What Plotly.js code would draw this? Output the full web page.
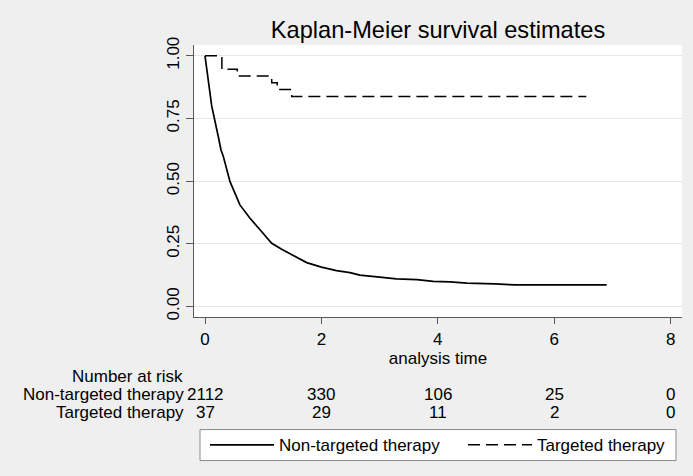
<!DOCTYPE html>
<html>
<head>
<meta charset="utf-8">
<script src="https://cdn.plot.ly/plotly-3.0.1.min.js"></script>
<style>html,body{margin:0;padding:0;background:#efefef;}#chart{width:693px;height:476px;}</style>
</head>
<body>
<div id="chart"></div>
<script>
// Non-targeted therapy KM estimate
var ntTime = [0, 0.115, 0.229, 0.275, 0.315, 0.43, 0.60, 0.773, 0.945, 1.146, 1.317, 1.517, 1.747, 2.0, 2.26, 2.49, 2.66, 3.0, 3.29, 3.64, 3.92, 4.21, 4.5, 4.98, 5.33, 6.9];
var ntSurv = [1, 0.80, 0.677, 0.624, 0.598, 0.498, 0.405, 0.352, 0.306, 0.252, 0.228, 0.202, 0.175, 0.157, 0.143, 0.135, 0.125, 0.117, 0.110, 0.107, 0.100, 0.098, 0.093, 0.090, 0.086, 0.086];
// Targeted therapy KM estimate
var tTime = [0, 0.29, 0.555, 1.146, 1.24, 1.49, 6.55];
var tSurv = [1, 0.946, 0.919, 0.892, 0.865, 0.838, 0.838];

var seriesNames = ["Non-targeted therapy", "Targeted therapy"];
var riskTimes = [0, 2, 4, 6, 8];
var riskNonTargeted = [2112, 330, 106, 25, 0];
var riskTargeted = [37, 29, 11, 2, 0];
var xTicks = [0, 2, 4, 6, 8];
var yTicks = [0, 0.25, 0.5, 0.75, 1];
var yTickText = ["0.00", "0.25", "0.50", "0.75", "1.00"];

var FONT = "Liberation Sans, Arial, sans-serif";
var FS = 17;
var axisCol = "#5a5a5a";

var traces = [
  {x: ntTime, y: ntSurv, type: "scatter", mode: "lines", name: seriesNames[0], legend: "legend",
   line: {color: "#000", width: 1.7, shape: "linear"}},
  {x: tTime, y: tSurv, type: "scatter", mode: "lines", name: seriesNames[1], legend: "legend2",
   line: {color: "#000", width: 1.5, shape: "hv", dash: "12px,6px"}}
];

// plot area geometry (px) for placing the risk table rows
var plotBottom = 317.3, plotLeft = 194, plotW = 488, plotH = 272.3;
function yshiftFor(py){ return -(py - plotBottom); }

var ann = [];
ann.push({text: "Number at risk", xref: "paper", yref: "paper", x: 0, y: 0,
  xanchor: "center", yanchor: "middle", xshift: 127 - plotLeft, yshift: yshiftFor(376.5),
  showarrow: false, font: {family: FONT, size: FS, color: "#000"}});
ann.push({text: seriesNames[0], xref: "paper", yref: "paper", x: 0, y: 0,
  xanchor: "right", yanchor: "middle", xshift: 186 - plotLeft, yshift: yshiftFor(395),
  showarrow: false, font: {family: FONT, size: FS, color: "#000"}});
ann.push({text: seriesNames[1], xref: "paper", yref: "paper", x: 0, y: 0,
  xanchor: "right", yanchor: "middle", xshift: 186 - plotLeft, yshift: yshiftFor(413),
  showarrow: false, font: {family: FONT, size: FS, color: "#000"}});
for (var i = 0; i < riskTimes.length; i++) {
  ann.push({text: String(riskNonTargeted[i]), xref: "x", yref: "paper", x: riskTimes[i], y: 0,
    xanchor: "center", yanchor: "middle", yshift: yshiftFor(395), showarrow: false,
    font: {family: FONT, size: FS, color: "#000"}});
  ann.push({text: String(riskTargeted[i]), xref: "x", yref: "paper", x: riskTimes[i], y: 0,
    xanchor: "center", yanchor: "middle", yshift: yshiftFor(413), showarrow: false,
    font: {family: FONT, size: FS, color: "#000"}});
}

var legY = (plotBottom - 445.7)/plotH;
var layout = {
  width: 693, height: 476,
  paper_bgcolor: "#efefef", plot_bgcolor: "#ffffff",
  margin: {l: 194, r: 11, t: 45, b: 159, pad: 0},
  font: {family: FONT, size: FS, color: "#000"},
  title: {text: "Kaplan-Meier survival estimates", xref: "paper", x: 0.5, xanchor: "center",
    yref: "container", y: 1 - 30/476, yanchor: "middle", font: {family: FONT, size: 23.6, color: "#000"}},
  xaxis: {range: [-0.189, 8.194], tickvals: xTicks, ticks: "outside", ticklen: 6, tickwidth: 1,
    tickcolor: axisCol, showline: true, linecolor: axisCol, linewidth: 1, showgrid: false,
    zeroline: false, tickfont: {size: FS}, fixedrange: true, ticklabelstandoff: 1,
    title: {text: "analysis time", font: {size: FS}, standoff: 0}},
  yaxis: {range: [-0.042, 1.043], tickvals: yTicks, ticktext: yTickText, tickangle: -90,
    ticks: "outside", ticklen: 7, tickwidth: 1, tickcolor: axisCol, showline: true, linecolor: axisCol,
    linewidth: 1, showgrid: true, gridcolor: "#e6e6e6", gridwidth: 1.2, zeroline: false,
    tickfont: {size: FS}, fixedrange: true},
  showlegend: true,
  legend: {orientation: "h", xref: "paper", yref: "paper", x: (205 - plotLeft)/plotW, xanchor: "left",
    y: legY, yanchor: "middle", bgcolor: "rgba(0,0,0,0)", borderwidth: 0,
    itemwidth: 64, font: {family: FONT, size: FS, color: "#000"}},
  legend2: {orientation: "h", xref: "paper", yref: "paper", x: (463 - plotLeft)/plotW, xanchor: "left",
    y: legY, yanchor: "middle", bgcolor: "rgba(0,0,0,0)", borderwidth: 0,
    itemwidth: 64, font: {family: FONT, size: FS, color: "#000"}},
  shapes: [{type: "rect", xref: "paper", yref: "paper",
    x0: (200 - plotLeft)/plotW, x1: (676 - plotLeft)/plotW,
    y0: (plotBottom - 461)/plotH, y1: (plotBottom - 430)/plotH,
    fillcolor: "#ffffff", line: {color: "#8a8a8a", width: 1}, layer: "above"}],
  annotations: ann
};

Plotly.newPlot("chart", traces, layout, {staticPlot: true, displayModeBar: false});
</script>
</body>
</html>
